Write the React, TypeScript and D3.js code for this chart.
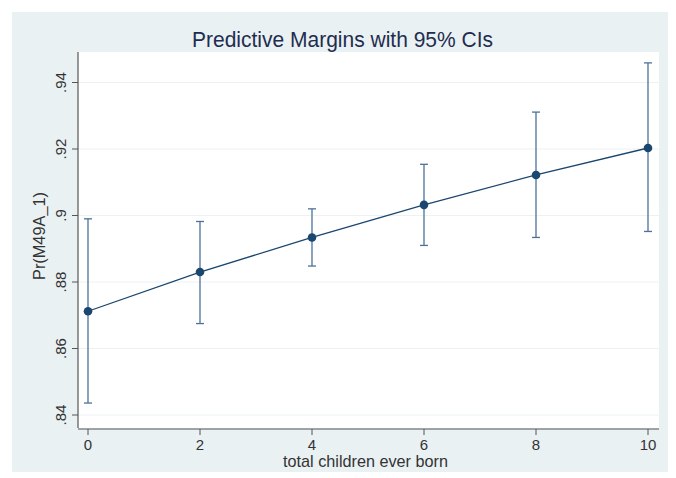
import * as d3 from "d3";

const children = [0, 2, 4, 6, 8, 10];
const margins = [0.8712, 0.8830, 0.8934, 0.9032, 0.9122, 0.9203];
const ciLow = [0.8436, 0.8675, 0.8848, 0.8910, 0.8934, 0.8952];
const ciHigh = [0.8990, 0.8982, 0.9020, 0.9154, 0.9311, 0.9459];
const yTicks = [0.84, 0.86, 0.88, 0.9, 0.92, 0.94];
const yTickLabels = [".84", ".86", ".88", ".9", ".92", ".94"];

const W = 676;
const H = 478;
const FONT = "'Liberation Sans', Arial, sans-serif";

export default function App() {
  const x = d3.scaleLinear().domain([0, 10]).range([88, 648]);
  const y = d3.scaleLinear().domain([0.84, 0.94]).range([415, 82.5]);

  const plot = { left: 78, right: 659, top: 52, bottom: 428 };

  const line = d3
    .line<number>()
    .x((d, i) => x(children[i]))
    .y((d) => y(d));

  const navy = "#1a476f";
  const ciColor = "#4e7198";

  return (
    <div style={{ position: "fixed", left: 0, top: 0, width: W, height: H, background: "#fff" }}>
      <svg width={W} height={H} style={{ display: "block" }}>
        <rect x={12} y={12} width={656} height={460} fill="#eaf1f3" />
        <rect x={plot.left} y={plot.top} width={plot.right - plot.left} height={plot.bottom - plot.top} fill="#fff" />

        {/* grid */}
        {yTicks.map((t) => (
          <line key={t} x1={plot.left} x2={plot.right} y1={y(t)} y2={y(t)} stroke="#eaf2f3" strokeWidth={1} />
        ))}

        {/* title */}
        <text
          x={192}
          y={46.5}
          textLength={301}
          lengthAdjust="spacingAndGlyphs"
          fontFamily={FONT}
          fontSize={22.5}
          fill="#1e2d4f"
        >
          Predictive Margins with 95% CIs
        </text>

        {/* y axis */}
        <line x1={plot.left} x2={plot.left} y1={plot.top} y2={plot.bottom} stroke="#555" strokeWidth={1.2} />
        {yTicks.map((t, i) => (
          <g key={t}>
            <line x1={plot.left - 6} x2={plot.left} y1={y(t)} y2={y(t)} stroke="#555" strokeWidth={1} />
            <text
              transform={`translate(${65.5},${y(t)}) rotate(-90)`}
              textAnchor="middle"
              fontFamily={FONT}
              fontSize={15}
              fill="#333"
            >
              {yTickLabels[i]}
            </text>
          </g>
        ))}
        <text
          transform={`translate(${45},${236}) rotate(-90)`}
          textAnchor="middle"
          textLength={88}
          lengthAdjust="spacingAndGlyphs"
          fontFamily={FONT}
          fontSize={16.5}
          fill="#333"
        >
          Pr(M49A_1)
        </text>

        {/* x axis */}
        <line x1={plot.left} x2={plot.right} y1={plot.bottom + 1} y2={plot.bottom + 1} stroke="#555" strokeWidth={1.2} />
        {children.map((c) => (
          <g key={c}>
            <line x1={x(c)} x2={x(c)} y1={plot.bottom + 1} y2={plot.bottom + 7} stroke="#555" strokeWidth={1} />
            <text x={x(c)} y={450} textAnchor="middle" fontFamily={FONT} fontSize={15} fill="#333">
              {c}
            </text>
          </g>
        ))}
        <text
          x={283}
          y={466.5}
          textLength={165}
          lengthAdjust="spacingAndGlyphs"
          fontFamily={FONT}
          fontSize={17}
          fill="#333"
        >
          total children ever born
        </text>

        {/* CIs */}
        {children.map((c, i) => (
          <g key={c} stroke={ciColor} strokeWidth={1.3}>
            <line x1={x(c)} x2={x(c)} y1={y(ciLow[i])} y2={y(ciHigh[i])} />
            <line x1={x(c) - 4} x2={x(c) + 4} y1={y(ciLow[i])} y2={y(ciLow[i])} />
            <line x1={x(c) - 4} x2={x(c) + 4} y1={y(ciHigh[i])} y2={y(ciHigh[i])} />
          </g>
        ))}

        {/* margins line */}
        <path d={line(margins) || ""} fill="none" stroke={navy} strokeWidth={1.3} />
        {children.map((c, i) => (
          <circle key={c} cx={x(c)} cy={y(margins[i])} r={4.3} fill={navy} />
        ))}
      </svg>
    </div>
  );
}
